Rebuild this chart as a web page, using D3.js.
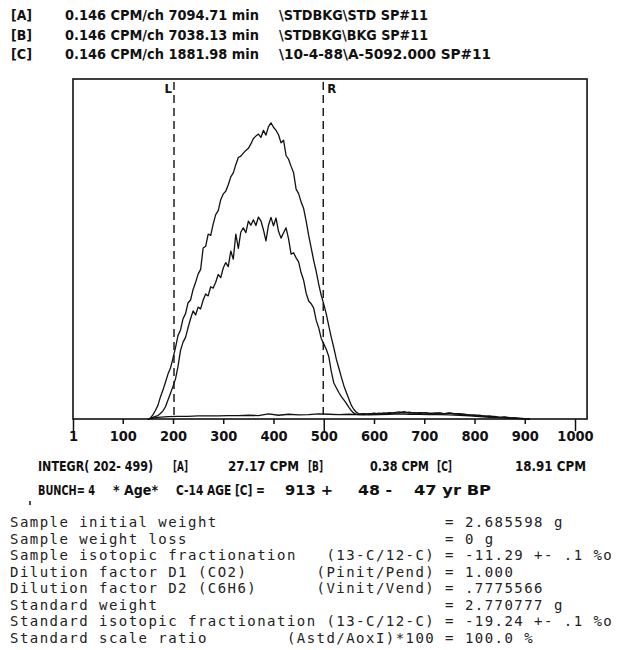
<!DOCTYPE html>
<html lang="en">
<head>
<meta charset="UTF-8">
<title>C-14 spectrum</title>
<style>
  body { margin: 0; background: #fff; }
  svg { display: block; }
  .dm { font-family: 'DejaVu Sans Condensed', 'DejaVu Sans', sans-serif; font-weight: bold; font-size: 14.5px; fill: #111; }
  .pl { font-family: 'DejaVu Sans Mono', monospace; font-size: 14px; fill: #222; white-space: pre; letter-spacing: 1.46px; }
</style>
</head>
<body>
<script src="https://cdn.jsdelivr.net/npm/d3@7"></script>
<script>
// header lines
var tags = ['[A]', '[B]', '[C]']
var rates = ['0.146 CPM/ch 7094.71 min', '0.146 CPM/ch 7038.13 min', '0.146 CPM/ch 1881.98 min']
var files = ['\\STDBKG\\STD  SP#11', '\\STDBKG\\BKG  SP#11', '\\10-4-88\\A-5092.000  SP#11']

// x axis
var tickChannels = [1, 100, 200, 300, 400, 500, 600, 700, 800, 900, 1000]
var windowLR = [202, 499]

// spectra (counts, arbitrary units)
var peakChannels = d3.range(150, 571, 5)
var stdPeak = [
  0, 0.3, 1.2, 2.5, 4.0, 6.5, 8.5, 10.8, 13.2, 15.0,
  17.9, 21.0, 24.6, 26.2, 29.5, 31.0, 34.2, 35.0, 38.1, 40.2,
  42.6, 44.0, 50.3, 50.8, 54.4, 54.0, 57.4, 60.1, 61.3, 64.5,
  66.2, 67.0, 68.9, 71.2, 72.4, 74.8, 76.9, 77.3, 78.2, 79.0,
  79.6, 80.9, 82.5, 83.2, 83.8, 82.8, 84.9, 83.5, 86.0, 87.1,
  85.8, 84.9, 83.6, 81.2, 82.0, 77.5, 76.4, 74.3, 72.4, 67.6,
  66.3, 63.8, 61.9, 58.2, 54.0, 50.3, 46.6, 43.4, 39.6, 36.4,
  33.8, 30.9, 27.4, 24.0, 21.0, 17.6, 15.0, 12.3, 9.8, 7.8,
  5.9, 4.0, 2.8, 2.0, 1.5]
var samplePeak = [
  0, 0.2, 0.5, 0.8, 1.0, 1.6, 2.4, 3.6, 5.6, 7.6,
  9.6, 11.8, 15.5, 20.2, 22.6, 24.0, 26.9, 29.5, 31.8, 30.6,
  32.9, 32.4, 35.0, 36.8, 36.2, 38.9, 38.5, 40.2, 42.5, 41.6,
  44.4, 46.0, 44.8, 49.4, 47.0, 54.4, 50.2, 55.0, 56.2, 54.8,
  58.2, 57.0, 58.6, 56.9, 59.4, 58.3, 55.6, 52.4, 57.0, 59.3,
  56.8, 59.1, 55.2, 53.2, 54.8, 56.2, 53.0, 48.5, 48.9, 47.4,
  46.2, 43.0, 40.8, 37.0, 34.7, 33.9, 32.6, 29.0, 26.8, 23.7,
  22.1, 20.5, 18.4, 14.0, 10.6, 9.2, 7.8, 6.6, 5.6, 4.6,
  3.4, 2.4, 1.7, 1.4, 1.3]
var tailChannels = d3.range(580, 911, 10)
var stdTail = [
  1.6, 1.4, 1.7, 1.5, 1.8, 1.6, 1.9, 2.1, 1.8, 2.0,
  1.7, 1.9, 1.8, 1.6, 1.8, 1.7, 1.6, 1.8, 1.5, 1.6,
  1.3, 1.2, 1.0, 1.1, 0.8, 0.9, 0.6, 0.5, 0.6, 0.4,
  0.3, 0.2, 0.1, 0]
var sampleTail = [
  1.3, 1.6, 1.4, 1.7, 1.5, 1.9, 1.7, 1.8, 2.2, 1.7,
  1.9, 1.6, 1.9, 1.7, 1.5, 1.8, 1.5, 1.7, 1.6, 1.4,
  1.4, 1.1, 1.2, 0.9, 0.9, 0.7, 0.8, 0.5, 0.5, 0.3,
  0.3, 0.2, 0.1, 0]
var bkgChannels = d3.range(150, 911, 20)
var bkgCounts = [
  0, 0.5, 0.7, 0.8, 0.8, 0.9, 0.9, 0.9, 1.0, 1.0,
  1.1, 1.0, 1.5, 1.1, 1.4, 1.2, 1.3, 1.5, 1.4, 1.3,
  1.4, 1.3, 1.2, 1.3, 1.4, 1.5, 1.4, 1.4, 1.3, 1.3,
  1.2, 1.1, 0.9, 0.7, 0.5, 0.4, 0.2, 0.1, 0]

// result lines
var integrCpm = [27.17, 0.38, 18.91]
var bunch = 4
var age = [913, 48, 47]

var paramLabels = ['Sample initial weight', 'Sample weight loss', 'Sample isotopic fractionation',
  'Dilution factor D1 (CO2)', 'Dilution factor D2 (C6H6)', 'Standard weight',
  'Standard isotopic fractionation', 'Standard scale ratio']
var paramRatios = ['', '', '(13-C/12-C)', '(Pinit/Pend)', '(Vinit/Vend)', '', '(13-C/12-C)', '(Astd/AoxI)*100']
var paramValues = ['2.685598 g', '0 g', '-11.29 +- .1 %o', '1.000', '.7775566', '2.770777 g', '-19.24 +- .1 %o', '100.0 %']

var width = 621
var height = 650

var svg = d3.select('body').append('svg')
  .attr('width', width)
  .attr('height', height)

var x = d3.scaleLinear().domain([1, 1000]).range([73, 575])
var y = d3.scaleLinear().domain([0, 100]).range([419, 79])

// text with a fixed start/end, like the printer output
function seg(str, x0, x1, yb) {
  svg.append('text').attr('class', 'dm')
    .attr('x', x0).attr('y', yb)
    .attr('textLength', x1 - x0)
    .attr('lengthAdjust', 'spacingAndGlyphs')
    .text(str)
}

tags.forEach(function (t, i) {
  var yb = 20 + i * 19.5
  seg(t, 11, 32, yb)
  seg(rates[i], 65, 259, yb)
  seg(files[i], 279, i == 2 ? 491 : 428, yb)
})

// frame
svg.append('rect')
  .attr('x', x(1)).attr('y', y(100))
  .attr('width', x(1024) - x(1)).attr('height', y(0) - y(100))
  .attr('fill', 'none').attr('stroke', '#111').attr('stroke-width', 1.6)

// axis
var axis = d3.axisBottom(x).tickValues(tickChannels).tickSize(5).tickFormat(d3.format('d'))
var gx = svg.append('g').attr('transform', 'translate(0,' + y(0) + ')').call(axis)
gx.attr('font-family', null).attr('font-size', null)
gx.select('.domain').remove()
gx.selectAll('.tick line')
  .attr('stroke', '#111').attr('stroke-width', 1.5)
  .attr('y2', function (d) { return d == 1 || d == 500 || d == 1000 ? 12 : 5 })
gx.selectAll('.tick text').attr('class', 'dm').attr('y', 22).attr('dy', null).attr('fill', null)

// L / R window
windowLR.forEach(function (c, i) {
  svg.append('line')
    .attr('x1', x(c)).attr('x2', x(c))
    .attr('y1', y(100) + 3).attr('y2', y(0))
    .attr('stroke', '#111').attr('stroke-width', 1.4)
    .attr('stroke-dasharray', '8,5')
  svg.append('text').attr('class', 'dm')
    .attr('x', i == 0 ? x(c) - 2 : x(c) + 4).attr('y', y(100) + 14)
    .attr('text-anchor', i == 0 ? 'end' : 'start')
    .style('font-size', '13px')
    .text(i == 0 ? 'L' : 'R')
})

// spectra
var line = d3.line().x(d => x(d[0])).y(d => y(d[1]))
function zip(ch, v) { return ch.map((c, i) => [c, v[i]]) }

var series = [
  zip(bkgChannels, bkgCounts),
  zip(peakChannels, samplePeak).concat(zip(tailChannels, sampleTail)),
  zip(peakChannels, stdPeak).concat(zip(tailChannels, stdTail))
]
svg.append('g').selectAll('path')
  .data(series)
  .enter()
  .append('path')
  .attr('d', line)
  .attr('fill', 'none')
  .attr('stroke', '#111')
  .attr('stroke-width', 1.3)
  .attr('stroke-linejoin', 'round')

// integration line
var yI = 471
seg('INTEGR( ' + windowLR[0] + '- ' + windowLR[1] + ')', 38, 153, yI)
seg('[A]', 173, 188, yI)
seg(integrCpm[0].toFixed(2) + ' CPM', 228, 299, yI)
seg('[B]', 308, 323, yI)
seg(integrCpm[1].toFixed(2) + ' CPM', 370, 429, yI)
seg('[C]', 437, 452, yI)
seg(integrCpm[2].toFixed(2) + ' CPM', 515, 586, yI)

var yB = 495
seg('BUNCH= ' + bunch, 38, 95, yB)
seg('* Age*', 113, 158, yB)
seg('C-14 AGE [C] =', 176, 265, yB)
seg(age[0] + ' +', 285, 333, yB)
seg(age[1] + ' -', 358, 392, yB)
seg(age[2] + ' yr BP', 414, 491, yB)
svg.append('line').attr('x1', 30).attr('x2', 30).attr('y1', 501).attr('y2', 505)
  .attr('stroke', '#111').attr('stroke-width', 1.5)

// parameter block
paramLabels.forEach(function (lab, i) {
  var r = paramRatios[i]
  var s = lab.padEnd(43 - r.length) + r + ' = ' + paramValues[i]
  svg.append('text').attr('class', 'pl')
    .attr('x', 10).attr('y', 527 + i * 16.5)
    .attr('xml:space', 'preserve')
    .text(s)
})
</script>
</body>
</html>
